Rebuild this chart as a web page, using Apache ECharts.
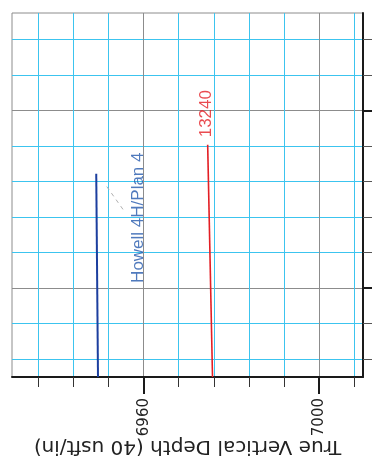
<!DOCTYPE html>
<html>
<head>
<meta charset="utf-8">
<script src="https://cdn.jsdelivr.net/npm/echarts@6/dist/echarts.min.js"></script>
<style>
  html, body { margin: 0; padding: 0; background: #fff; }
  #chart { width: 372px; height: 468px; }
</style>
</head>
<body>
<div id="chart"></div>
<script>
// tick positions (usft)
var tvdMinor = [6936, 6944, 6952, 6960, 6968, 6976, 6984, 6992, 7000, 7008]
var tvdMajor = [6960, 7000]
var vsMinor = [24, 32, 40, 48, 56, 64, 72, 80, 88, 96]
var vsMajor = [40, 80]

// well traces: true vertical depth vs section
var howellTVD = [6949.2, 6949.6]
var howellVS = [65.8, 20]
var offsetTVD = [6974.6, 6975.7]
var offsetVS = [72.3, 20]
var leaderTVD = [6951.6, 6955.7]
var leaderVS = [62.9, 57.2]

// label anchors
var labelNames = ['Howell 4H/Plan 4', '13240']
var labelTVD = [6958.9, 6974.3]
var labelVS = [41.2, 74.0]
var labelColors = ['#2459ad', '#e31e24']

var cyan = '#3cc4ef'
var gray = '#8c8c8c'
var ink = '#1a1a1a'

function zip (a, b) {
  return a.map(function (v, i) { return [v, b[i]] })
}

var myChart = echarts.init(document.getElementById('chart'))

var labelData = labelNames.map(function (n, i) {
  return { name: n, value: [labelTVD[i], labelVS[i]], label: { color: labelColors[i] } }
})

myChart.setOption({
  animation: false,
  backgroundColor: '#fff',
  grid: {
    left: 12, right: 9, top: 13, bottom: 91,
    show: true,
    borderColor: gray,
    borderWidth: 1
  },
  xAxis: [{
    type: 'value',
    min: 6930,
    max: 7010,
    position: 'bottom',
    axisLine: { show: true, onZero: false, lineStyle: { color: ink, width: 2 } },
    axisTick: { show: true, customValues: tvdMinor, length: 10, lineStyle: { color: '#333', width: 1 } },
    axisLabel: { show: false },
    splitLine: { show: true, lineStyle: { color: cyan, width: 1 } }
  }, {
    type: 'value',
    min: 6930,
    max: 7010,
    position: 'bottom',
    axisLine: { show: false, onZero: false },
    axisTick: { show: true, customValues: tvdMajor, length: 17, lineStyle: { color: ink, width: 2 } },
    axisLabel: {
      show: true,
      customValues: tvdMajor,
      formatter: function (v) { return String(v) },
      rotate: 90,
      margin: 21,
      color: '#222',
      fontSize: 15,
      fontFamily: 'DejaVu Sans'
    },
    splitLine: { show: true, lineStyle: { color: gray, width: 1 } },
    name: 'True Vertical Depth (40 usft/in)',
    nameLocation: 'middle',
    nameGap: 59,
    nameRotate: 180,
    nameMoveOverlap: false,
    nameTextStyle: { color: '#222', fontSize: 20, fontFamily: 'DejaVu Sans' }
  }],
  yAxis: [{
    type: 'value',
    min: 20,
    max: 102,
    position: 'right',
    axisLine: { show: true, onZero: false, lineStyle: { color: ink, width: 2 } },
    axisTick: { show: true, customValues: vsMinor, length: 9, lineStyle: { color: '#555', width: 1 } },
    axisLabel: { show: false },
    splitLine: { show: true, lineStyle: { color: cyan, width: 1 } }
  }, {
    type: 'value',
    min: 20,
    max: 102,
    position: 'right',
    axisLine: { show: false, onZero: false },
    axisTick: { show: true, customValues: vsMajor, length: 10, lineStyle: { color: ink, width: 2 } },
    axisLabel: { show: false },
    splitLine: { show: true, lineStyle: { color: gray, width: 1 } }
  }],
  series: [{
    name: 'Howell 4H/Plan 4',
    type: 'line',
    xAxisIndex: 0,
    yAxisIndex: 0,
    symbol: 'none',
    silent: true,
    lineStyle: { color: '#1c3f9f', width: 2 },
    data: zip(howellTVD, howellVS)
  }, {
    name: 'leader',
    type: 'line',
    xAxisIndex: 0,
    yAxisIndex: 0,
    symbol: 'none',
    silent: true,
    lineStyle: { color: '#b0b0b0', width: 1, type: [4, 4] },
    data: zip(leaderTVD, leaderVS)
  }, {
    name: '13240',
    type: 'line',
    xAxisIndex: 0,
    yAxisIndex: 0,
    symbol: 'none',
    silent: true,
    lineStyle: { color: '#e31e24', width: 1.6 },
    data: zip(offsetTVD, offsetVS)
  }, {
    name: 'labels',
    type: 'scatter',
    xAxisIndex: 0,
    yAxisIndex: 0,
    symbolSize: 0,
    silent: true,
    label: {
      show: true,
      formatter: '{b}',
      position: 'inside',
      rotate: 90,
      align: 'left',
      verticalAlign: 'middle',
      fontSize: 17,
      fontFamily: 'Liberation Sans'
    },
    data: labelData
  }]
})
</script>
</body>
</html>
